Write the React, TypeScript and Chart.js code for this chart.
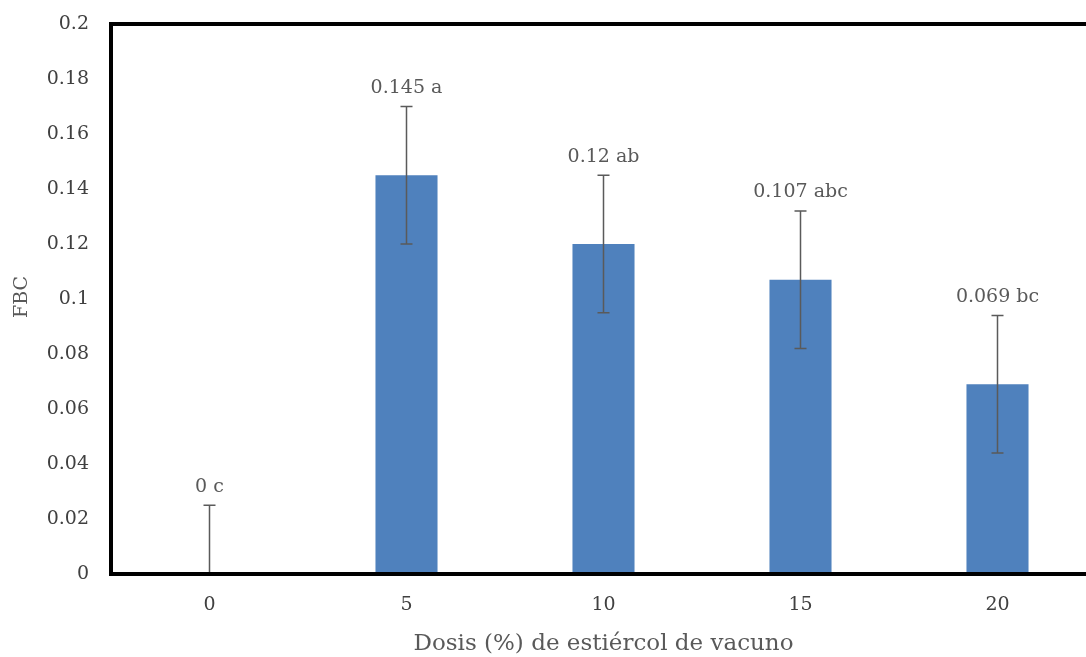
import React, { useEffect, useRef } from "react";
import { Chart, registerables } from "chart.js";

Chart.register(...registerables);

const categories = ["0", "5", "10", "15", "20"];
const values = [0, 0.145, 0.12, 0.107, 0.069];
const errors = [0.025, 0.025, 0.025, 0.025, 0.025];
const pointLabels = ["0 c", "0.145 a", "0.12 ab", "0.107 abc", "0.069 bc"];
const yTickLabels = ["0", "0.02", "0.04", "0.06", "0.08", "0.1", "0.12", "0.14", "0.16", "0.18", "0.2"];
const xTitle = "Dosis (%) de estiércol de vacuno";
const yTitle = "FBC";

const FONT = "'DejaVu Serif', serif";

const overlay = {
  id: "overlay",
  afterDatasetsDraw(chart: any) {
    const ctx = chart.ctx;
    const x = chart.scales.x;
    const y = chart.scales.y;
    const area = chart.chartArea;
    ctx.save();
    ctx.strokeStyle = "#5a5a5a";
    ctx.lineWidth = 1.5;
    values.forEach((v, i) => {
      const cx = x.getPixelForValue(i);
      const lo = Math.max(0, v - errors[i]);
      const hi = v + errors[i];
      const yl = y.getPixelForValue(lo);
      const yh = y.getPixelForValue(hi);
      ctx.beginPath();
      ctx.moveTo(cx, yl);
      ctx.lineTo(cx, yh);
      ctx.moveTo(cx - 6, yh);
      ctx.lineTo(cx + 6, yh);
      if (v - errors[i] > 0) {
        ctx.moveTo(cx - 6, yl);
        ctx.lineTo(cx + 6, yl);
      }
      ctx.stroke();
      ctx.fillStyle = "#595959";
      ctx.font = "19px " + FONT;
      ctx.textAlign = "center";
      ctx.textBaseline = "bottom";
      ctx.fillText(pointLabels[i], cx, yh - 9);
    });
    ctx.strokeStyle = "#000";
    ctx.lineWidth = 4;
    ctx.strokeRect(area.left, area.top, area.right - area.left, area.bottom - area.top);
    ctx.fillStyle = "#595959";
    ctx.font = "23px " + FONT;
    ctx.textAlign = "center";
    ctx.textBaseline = "middle";
    ctx.fillText(xTitle, x.getPixelForValue(2), 644);
    ctx.font = "19px " + FONT;
    ctx.translate(22, (area.top + area.bottom) / 2 - 2);
    ctx.rotate(-Math.PI / 2);
    ctx.fillText(yTitle, 0, 0);
    ctx.restore();
  },
};

export default function App() {
  const ref = useRef<HTMLCanvasElement>(null);
  useEffect(() => {
    if (!ref.current) return;
    const chart = new Chart(ref.current, {
      type: "bar",
      data: {
        labels: categories,
        datasets: [
          {
            data: values,
            backgroundColor: "#4F81BD",
            barPercentage: 1,
            categoryPercentage: 0.315,
          },
        ],
      },
      options: {
        animation: false,
        responsive: false,
        maintainAspectRatio: false,
        layout: { padding: { top: 24, right: 4, left: 0, bottom: 0 } },
        plugins: { legend: { display: false }, tooltip: { enabled: false } },
        scales: {
          x: {
            grid: { display: false, drawTicks: false },
            border: { display: false },
            ticks: { color: "#404040", font: { family: FONT, size: 19 }, padding: 20 },
            afterFit: (s: any) => {
              s.height = 83;
              s.paddingLeft = 0;
              s.paddingRight = 0;
            },
          },
          y: {
            min: 0,
            max: 0.2,
            grid: { display: false, drawTicks: false },
            border: { display: false },
            ticks: {
              stepSize: 0.02,
              color: "#404040",
              font: { family: FONT, size: 19 },
              padding: 22,
              callback: (_v: any, i: number) => yTickLabels[i],
            },
            afterFit: (s: any) => {
              s.width = 111;
              s.paddingTop = 0;
              s.paddingBottom = 0;
            },
          },
        },
      },
      plugins: [overlay],
    });
    return () => chart.destroy();
  }, []);
  return (
    <div style={{ position: "fixed", left: 0, top: 0, width: 1086, height: 657, overflow: "hidden", background: "#fff" }}>
      <canvas ref={ref} width={1100} height={657} style={{ display: "block" }} />
    </div>
  );
}
